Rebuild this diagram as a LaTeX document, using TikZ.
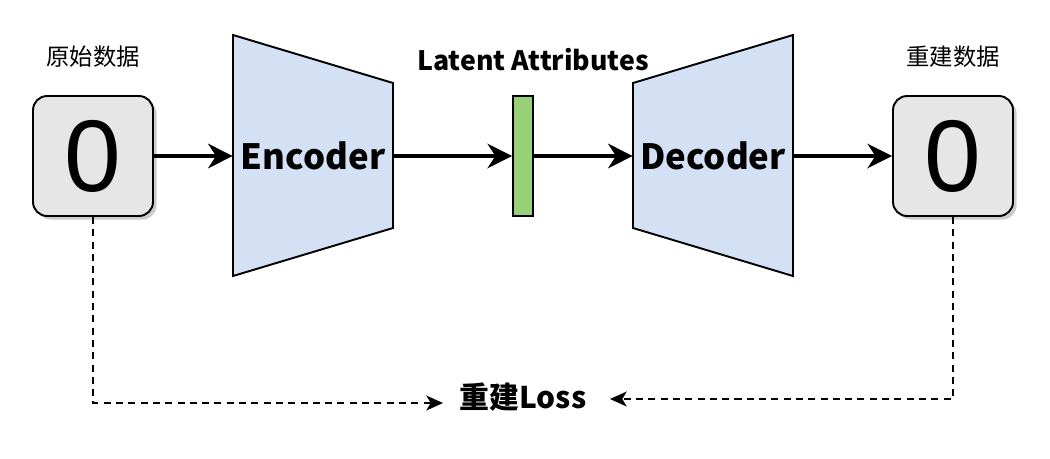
\documentclass[tikz,border=0pt]{standalone}
\usepackage{fontspec}
\setmainfont{Liberation Sans}
\newfontfamily\cjk{Noto Sans CJK SC}
\usetikzlibrary{arrows.meta, positioning, calc, shadows}

\definecolor{databoxfill}{HTML}{E6E6E6}
\definecolor{coderfill}{HTML}{D4E1F5}
\definecolor{latentfill}{HTML}{97D077}

\begin{document}
\begin{tikzpicture}[
    x=0.02cm, y=-0.02cm,
    databox/.style={rounded corners=8pt, minimum width=2.4cm, minimum height=2.4cm, draw=black, line width=1.1pt, fill=databoxfill,
        drop shadow={shadow xshift=2pt, shadow yshift=-2pt, fill=black!40, opacity=0.5}, inner sep=0pt, font=\fontsize{58}{58}\selectfont},
    coder/.style={draw=black, line width=1.1pt, fill=coderfill},
    codertext/.style={minimum width=3.2cm, minimum height=2.9cm, inner sep=0pt, font=\cjk\bfseries\fontsize{19.8}{22}\selectfont},
    latent/.style={draw=black, line width=1.1pt, fill=latentfill, minimum width=0.4cm, minimum height=2.4cm, inner sep=0pt},
    caption/.style={font=\cjk\fontsize{13.3}{15}\selectfont},
    title/.style={font=\cjk\bfseries\fontsize{15.2}{17}\selectfont},
    flow/.style={line width=1.8pt, -{Stealth[length=14pt, width=14pt, inset=4.5pt]}},
    lossline/.style={line width=0.9pt, dashed, dash pattern=on 4pt off 3pt, -{Stealth[length=9.5pt, width=8.5pt, inset=2.5pt]}}
]
\useasboundingbox (0,0) rectangle (1050,458);

% data boxes
\node[databox] (input) at (93,156) {\raisebox{-3pt}{0}};
\node[caption] (inputlabel) at (93,57) {原始数据};
\node[databox] (output) at (953,156) {\raisebox{-3pt}{0}};
\node[caption] (outputlabel) at (953,57) {重建数据};

% encoder / decoder
\draw[coder] (233,35) -- (393,83) -- (393,228) -- (233,276) -- cycle;
\node[codertext] (enc) at (313,156) {Encoder};
\draw[coder] (633,83) -- (793,35) -- (793,276) -- (633,228) -- cycle;
\node[codertext] (dec) at (713,156) {Decoder};

% latent
\node[latent] (latent) at (523,156) {};
\node[title] (latentlabel) at (533,60) {Latent Attributes};

\draw[flow] (input) -- (enc);
\draw[flow] (enc) -- (latent);
\draw[flow] (latent) -- (dec);
\draw[flow] (dec) -- (output);

% loss
\node[font=\cjk\bfseries\fontsize{17}{19}\selectfont] (loss) at (523,397) {重建Loss};
\coordinate (lossin) at (443,403);
\coordinate (lossout) at (610,399);
\draw[lossline] (input.south) |- (lossin);
\draw[lossline] (output.south) |- (lossout);
\end{tikzpicture}
\end{document}
